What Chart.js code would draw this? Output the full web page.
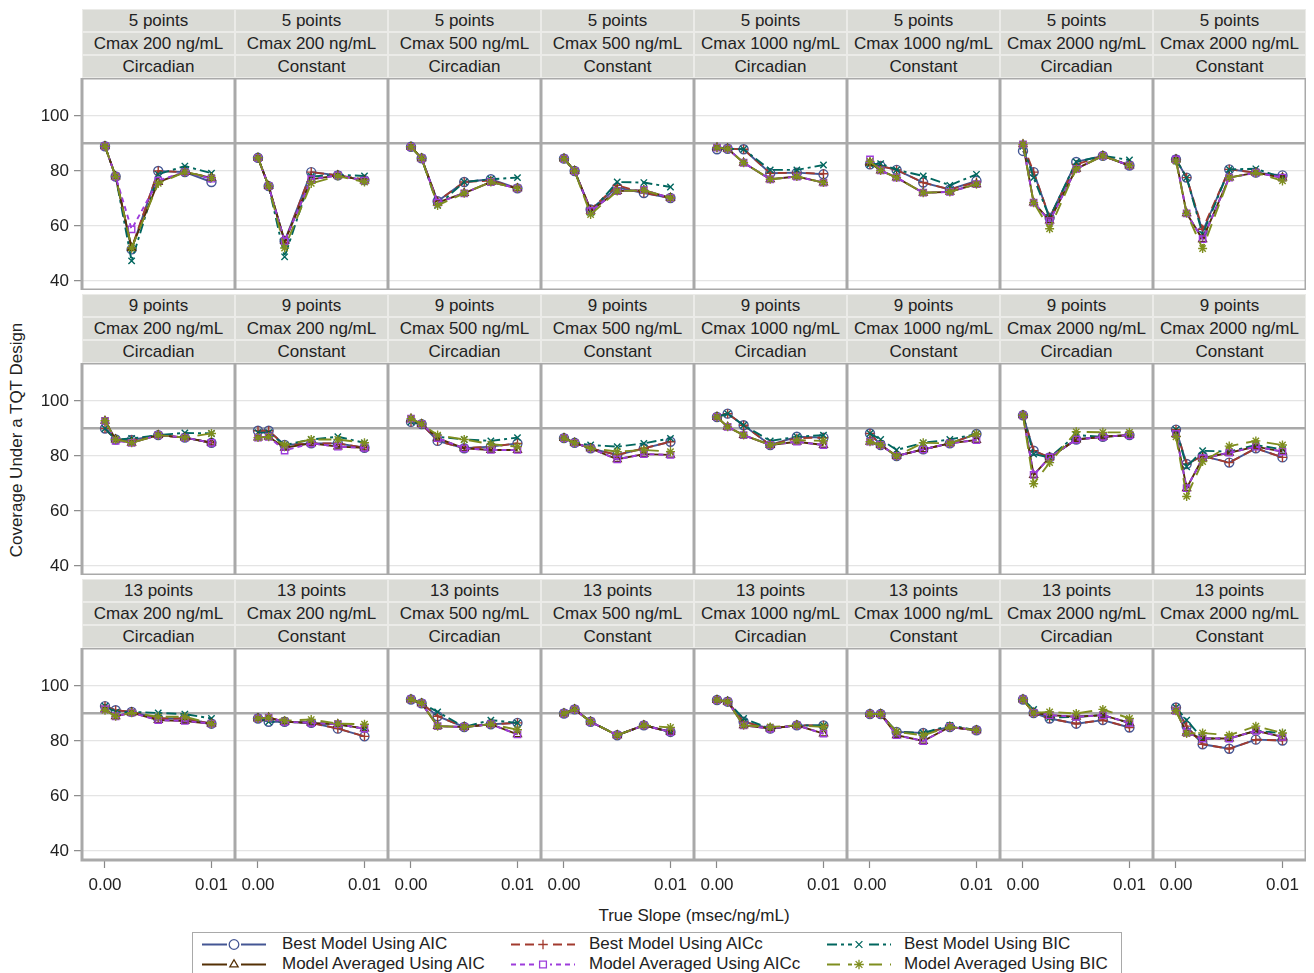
<!DOCTYPE html>
<html>
<head>
<meta charset="utf-8">
<script src="https://cdn.jsdelivr.net/npm/chart.js@4.4.1/dist/chart.umd.min.js"></script>
<style>
  body { margin: 0; background: #fff; font-family: "Liberation Sans", Arial, sans-serif; color: #222; }
  #wrap { position: relative; width: 1314px; height: 973px; overflow: hidden; }
  .hdr { position: absolute; background: #dadbd6; box-shadow: inset 0 0 0 1px #ebebe8; text-align: center; font-size: 17px; line-height: 23px; white-space: nowrap; }
  .panel { position: absolute; }
  .panel canvas { display: block; }
  .ttl { position: absolute; font-size: 17px; text-align: center; white-space: nowrap; }
  #legend { position: absolute; left: 192px; top: 932px; width: 930px; height: 46px; border: 1px solid #a9a9a9; box-sizing: border-box; }
  #legend canvas { position: absolute; }
  .lgTxt { position: absolute; font-size: 17px; line-height: 20px; white-space: nowrap; }
</style>
</head>
<body>
<div id="wrap">
  <div class="ttl" style="left:-183px; top:430px; width:400px; transform:rotate(-90deg);">Coverage Under a TQT Design</div>
  <div class="ttl" style="left:494px; top:906px; width:400px;">True Slope (msec/ng/mL)</div>
  <div id="legend"></div>
</div>
<script>
// ─── データ ─────────────────────────────
const slopes = [0, 0.001, 0.0025, 0.005, 0.0075, 0.01];
const xTicks = [0, 0.01];
const yTicks = [40, 60, 80, 100];
const refLine = 90;
const samplingLabels = ['5 points', '9 points', '13 points'];
const cmaxLabels = ['Cmax 200 ng/mL', 'Cmax 200 ng/mL', 'Cmax 500 ng/mL', 'Cmax 500 ng/mL',
                    'Cmax 1000 ng/mL', 'Cmax 1000 ng/mL', 'Cmax 2000 ng/mL', 'Cmax 2000 ng/mL'];
const profileLabels = ['Circadian', 'Constant', 'Circadian', 'Constant',
                       'Circadian', 'Constant', 'Circadian', 'Constant'];

// panels in reading order (row by row), 6 slopes each
const bestAIC = [
  [89, 78, 51.5, 80, 79.6, 76], [84.8, 74.5, 54.5, 79.6, 78.4, 76.7], [88.8, 84.6, 69, 76, 77, 73.7], [84.5, 80, 66, 74, 72, 70.2],
  [87.9, 88.1, 87.9, 79.2, 79.4, 78.8], [82.4, 81.8, 80.4, 75.8, 73.3, 76.4], [87.3, 79.6, 63, 83.3, 85.5, 82], [84.2, 77.6, 58, 80.6, 79.4, 78.4],
  [90, 86, 85.8, 87.6, 86.7, 84.8], [89.2, 89.2, 84, 84.6, 84.6, 83], [92.4, 91.6, 85.5, 82.8, 83.4, 84.6], [86.5, 84.8, 82.8, 80.4, 82.8, 85.2],
  [94.2, 95.4, 91.2, 84, 87, 86.7], [88.2, 84, 80, 82.4, 84.6, 88], [94.8, 81.9, 79.5, 86, 87, 87.6], [89.6, 77.1, 80, 77.6, 82.8, 79.5],
  [92.7, 91.2, 90.6, 88.2, 88.2, 86.3], [88.2, 87, 87, 86.6, 84.5, 81.7], [95.1, 93.7, 89, 85.1, 86.1, 86.6], [90, 91.5, 87, 82.1, 85.7, 83.3],
  [94.9, 94.3, 87, 84.5, 85.7, 85.7], [89.8, 89.8, 83.3, 82.9, 85.1, 83.9], [95.1, 90.2, 88.2, 86.3, 87.6, 84.9], [92.2, 85.4, 78.8, 77.2, 80.5, 80.2]
];
const bestAICc = [
  [89, 78, 52, 80, 79.6, 77.6], [84.8, 74.5, 54, 79.6, 78.4, 77], [88.8, 84.6, 69, 76, 76.5, 73.7], [84.5, 80, 66, 74.8, 72.1, 70.2],
  [88.5, 88.1, 87.9, 79.2, 79.4, 79], [82.4, 81.8, 80.4, 75.8, 73.3, 76], [89.5, 79.6, 63, 82.4, 85.5, 82], [84.2, 77.6, 58.8, 80.6, 79.4, 77.6],
  [90, 86, 85.8, 87.6, 86.7, 84.8], [89.2, 89.2, 84, 84.6, 84.6, 83], [92.4, 91.6, 85.5, 82.8, 83.4, 84.6], [86.5, 84.8, 82.8, 80.4, 82.8, 85.2],
  [94.2, 95.4, 91.2, 84, 86.5, 86.7], [88.2, 84, 80, 82.4, 84.6, 88], [94.8, 81.9, 79.5, 86, 87, 87.6], [89.6, 77.1, 80, 77.6, 82.8, 79.5],
  [92.7, 91.2, 90.6, 88.2, 88.2, 86.3], [88.2, 88.5, 87, 86.6, 84.5, 81.7], [95.1, 93.7, 89, 85.1, 86.1, 86.6], [90, 91.5, 87, 82.1, 85.7, 83.3],
  [94.9, 94.3, 87, 84.5, 85.7, 85.7], [89.8, 89.8, 83.3, 82.9, 85.1, 83.9], [95.1, 90.2, 88.2, 86.3, 87.6, 84.9], [92.2, 85.4, 78.8, 77.2, 80.5, 80.2]
];
const bestBIC = [
  [89, 78, 47.3, 78.8, 81.8, 79.2], [84.8, 74.5, 48.8, 78, 78.6, 78.2], [88.8, 84.6, 67.5, 76, 77, 77.6], [84.5, 80, 65, 76, 75.8, 74.2],
  [88.5, 88.1, 87.9, 80.4, 80.4, 82.2], [82.4, 82.7, 80.4, 78.2, 74.8, 78.8], [89, 77.6, 63, 83.3, 85.5, 84], [84.2, 77.6, 57, 80.6, 80.8, 77.6],
  [90, 86, 86.4, 87.6, 88.4, 88.2], [88.5, 88.5, 84, 86, 87, 84.8], [92.4, 91.6, 87, 86, 85.5, 86.7], [86.5, 84.8, 84, 83.4, 84.6, 86.4],
  [94.2, 95.4, 91.2, 85.5, 87, 87.6], [88.2, 86, 82.2, 84.8, 86, 88], [94.8, 80.7, 79.5, 87.6, 87, 87.6], [89.6, 76.1, 81.9, 81.6, 84, 82.4],
  [92.7, 90.5, 90.6, 90.2, 89.8, 88.2], [88.2, 87, 87, 86.6, 86.1, 84.5], [95.1, 93.7, 90.6, 85.1, 87.6, 86.6], [90, 91.5, 87, 82.1, 85.7, 83.3],
  [94.9, 94.3, 88.2, 84.5, 85.7, 85.7], [89.8, 89.8, 83.3, 82.9, 85.7, 83.9], [95.1, 91.5, 88.5, 88.8, 89.4, 86.6], [92.2, 87.6, 80.9, 80.9, 83.7, 82.9]
];
const avgAIC = [
  [89, 78, 52, 76, 79.6, 77.5], [84.8, 74.5, 54.5, 77, 78.4, 76.5], [88.8, 84.6, 68.5, 72, 76, 73.7], [84.5, 80, 65.5, 72.7, 73, 70.2],
  [88.5, 88.1, 83, 77, 78, 75.8], [83, 80.2, 77.6, 72.1, 72.4, 75.2], [89.7, 68.5, 62, 80.8, 85.5, 82], [84.2, 64.6, 55.2, 77.6, 79.4, 77.6],
  [92.8, 86, 84.8, 87.6, 86.7, 84.8], [86.7, 87, 83, 84.6, 83.4, 83], [93.6, 91.6, 86.5, 82.8, 82.2, 82.2], [86.5, 84.8, 82.8, 78.8, 80.7, 80.4],
  [94.2, 90.6, 87.6, 84, 85.2, 84], [85.2, 84, 80, 82.4, 84.6, 85.8], [94.8, 73.1, 79.5, 86, 87, 87.6], [88, 68.3, 79.2, 81.2, 83.4, 81.6],
  [91.5, 89, 90.3, 87.6, 87.3, 86.3], [88.2, 88.5, 87, 86.6, 86.1, 84.5], [95.1, 93.7, 85.4, 85.1, 86.1, 82.4], [90, 91.5, 87, 82.1, 85.7, 83.3],
  [94.9, 94.3, 85.7, 84.5, 85.7, 82.7], [89.8, 89.8, 82.1, 80, 85.1, 83.9], [95.1, 90.2, 89.4, 88.8, 89.4, 86.6], [91, 83, 80.9, 80.9, 83.7, 81.5]
];
const avgAICc = [
  [89, 78, 58.8, 76.5, 79.6, 77.2], [84.8, 74.5, 54.5, 77, 78.4, 76.5], [88.8, 84.6, 68.5, 71.9, 76, 73.7], [84.5, 80, 65.5, 72.7, 73.1, 70.2],
  [88.5, 88.1, 83, 77, 78, 75.8], [84.2, 80.2, 77.6, 72.1, 72.4, 75.2], [89.7, 68.5, 61.8, 80.8, 85.5, 82], [84.2, 64.6, 55.2, 77.6, 79.4, 77.6],
  [92.8, 85.5, 84.8, 87.6, 86.7, 84.8], [86.7, 87, 82, 84.6, 83.4, 83], [93.6, 91.6, 86.5, 82.8, 82.2, 82.2], [86.5, 84.8, 82.8, 78.8, 80.7, 80.4],
  [94.2, 90.6, 87.6, 84, 85.2, 84], [85.2, 84, 80, 82.4, 84.6, 85.8], [94.8, 73.1, 79.5, 86, 87, 87.6], [88, 68.3, 79.2, 81.2, 83.4, 81.6],
  [91.5, 89, 90.3, 87.6, 87.3, 86.3], [88.2, 88.5, 87, 86.6, 86.1, 84.5], [95.1, 93.7, 85.4, 85.1, 86.1, 82.4], [90, 91.5, 87, 82.1, 85.7, 83.3],
  [94.9, 94.3, 85.7, 84.5, 85.7, 82.7], [89.8, 89.8, 82.1, 80, 85.1, 83.9], [95.1, 90.2, 89.4, 88.8, 89.4, 86.6], [91, 83, 80.9, 80.9, 83.7, 81.5]
];
const avgBIC = [
  [89, 78, 52, 75.5, 79.6, 77.6], [84.8, 74.5, 52, 75.5, 78.2, 76], [88.8, 84.6, 67.5, 71.9, 76, 73.7], [84.5, 80, 64.2, 72.7, 73, 70.2],
  [88.5, 88.1, 83, 77, 78, 75.8], [83.5, 80.2, 77.6, 72.1, 72.4, 75.2], [89.7, 68.5, 59, 80.8, 85.5, 82], [83.6, 64.6, 51.8, 77.6, 79.4, 76.4],
  [92.8, 86, 84.8, 87.6, 86.7, 88.2], [86.7, 87, 84, 86, 86, 84.8], [93.6, 91.6, 87.6, 86, 84.3, 83.4], [86.5, 84.8, 82.8, 81.6, 82.2, 81.6],
  [94.2, 90.6, 87.6, 84, 85.8, 85.5], [85.2, 84, 80, 84.8, 84.6, 88], [94.8, 69.9, 77.6, 88.8, 88.6, 88.6], [87, 65.3, 78, 83.6, 85.5, 84],
  [91.2, 89, 90.3, 88.8, 88.8, 86.3], [88.2, 88.5, 87.4, 87.8, 86.3, 86.1], [95.1, 93.7, 85.4, 85.1, 86.1, 84.1], [90, 91.5, 87, 82.1, 85.7, 84.9],
  [94.9, 94.3, 85.7, 85.1, 85.7, 85.1], [89.8, 89.8, 83.3, 82.1, 85.1, 83.9], [95.1, 90.2, 90.6, 90, 91.5, 88.2], [91, 82.7, 82.9, 82.1, 85.4, 82.9]
];

// ─── 系列スタイル ─────────────────────────────
const SERIES = [
  { label: 'Best Model Using AIC',      data: bestAIC,  color: '#445694', dash: [],            point: 'circle' },
  { label: 'Best Model Using AICc',     data: bestAICc, color: '#A23A2E', dash: [9, 5],        point: 'cross' },
  { label: 'Best Model Using BIC',      data: bestBIC,  color: '#01665E', dash: [10, 4, 3, 4], point: 'crossRot' },
  { label: 'Model Averaged Using AIC',  data: avgAIC,   color: '#543005', dash: [],            point: 'triangle' },
  { label: 'Model Averaged Using AICc', data: avgAICc,  color: '#9D3CDB', dash: [5, 4],        point: 'rect' },
  { label: 'Model Averaged Using BIC',  data: avgBIC,   color: '#7F8E1F', dash: [13, 8],       point: 'star' }
];

// ─── レイアウト ─────────────────────────────
const PLOT_LEFT = 82, PLOT_W = 153, ROW_TOP = 78, ROW_PITCH = 285, PLOT_H = 212;
const HDR_H = 23, Y_AXIS_W = 52, X_AXIS_H = 40;
const Y_MIN = 36.73, Y_MAX = 113.82;
const X_MIN = -0.00216, X_MAX = 0.01221;
const FONT = { family: '"Liberation Sans", Arial, sans-serif', size: 17 };

Chart.defaults.font.family = FONT.family;
Chart.defaults.color = '#222';

const framePlugin = {
  id: 'frame',
  beforeDatasetsDraw(chart) {
    const { ctx, chartArea: a } = chart;
    ctx.save();
    ctx.strokeStyle = '#a9a9a9';
    ctx.lineWidth = 3;
    ctx.strokeRect(a.left, a.top, a.right - a.left, a.bottom - a.top);
    ctx.restore();
  }
};

// 軸のラベル分の余白を消して、プロット領域をパネルにぴったり合わせる
function fixSize(s, w, h) {
  if (w !== null) s.width = w;
  if (h !== null) s.height = h;
  s.paddingTop = 0; s.paddingBottom = 0; s.paddingLeft = 0; s.paddingRight = 0;
}

const wrap = document.getElementById('wrap');

function addHeader(left, top, text) {
  const d = document.createElement('div');
  d.className = 'hdr';
  d.style.left = left + 'px';
  d.style.top = top + 'px';
  d.style.width = PLOT_W + 'px';
  d.style.height = HDR_H + 'px';
  d.textContent = text;
  wrap.appendChild(d);
}

for (let r = 0; r < 3; r++) {
  for (let c = 0; c < 8; c++) {
    const idx = r * 8 + c;
    const left = PLOT_LEFT + c * PLOT_W;
    const top = ROW_TOP + r * ROW_PITCH;
    // ヘッダー3段
    addHeader(left, top - 3 * HDR_H, samplingLabels[r]);
    addHeader(left, top - 2 * HDR_H, cmaxLabels[c]);
    addHeader(left, top - HDR_H, profileLabels[c]);

    const firstCol = c === 0, lastRow = r === 2;
    const box = document.createElement('div');
    box.className = 'panel';
    box.style.left = (left - (firstCol ? Y_AXIS_W : 0)) + 'px';
    box.style.top = top + 'px';
    box.style.width = (PLOT_W + (firstCol ? Y_AXIS_W : 0)) + 'px';
    box.style.height = (PLOT_H + (lastRow ? X_AXIS_H : 0)) + 'px';
    const cv = document.createElement('canvas');
    box.appendChild(cv);
    wrap.appendChild(box);

    new Chart(cv, {
      type: 'line',
      data: {
        datasets: SERIES.map((s, i) => ({
          label: s.label,
          data: slopes.map((x, k) => ({ x, y: s.data[idx][k] })),
          borderColor: s.color,
          backgroundColor: 'transparent',
          borderWidth: 1.9,
          borderDash: s.dash,
          pointStyle: s.point,
          pointRadius: 4.5,
          pointBorderColor: s.color,
          pointBackgroundColor: 'transparent',
          pointBorderWidth: 1.4,
          tension: 0,
          order: SERIES.length - i
        }))
      },
      options: {
        responsive: true,
        maintainAspectRatio: false,
        animation: false,
        events: [],
        devicePixelRatio: 1,
        layout: { padding: 0, autoPadding: false },
        plugins: { legend: { display: false }, tooltip: { enabled: false } },
        scales: {
          x: {
            type: 'linear',
            min: X_MIN, max: X_MAX,
            display: lastRow,
            afterBuildTicks: s => { s.ticks = xTicks.map(v => ({ value: v })); },
            ticks: { callback: v => Number(v).toFixed(2), maxRotation: 0, padding: 7, font: FONT, color: '#222' },
            grid: { drawOnChartArea: false, drawTicks: true, tickLength: 8, tickColor: '#888', tickWidth: 1.2 },
            border: { display: false },
            afterFit: s => fixSize(s, null, lastRow ? X_AXIS_H : 0)
          },
          y: {
            type: 'linear',
            min: Y_MIN, max: Y_MAX,
            afterBuildTicks: s => { s.ticks = [...yTicks, refLine].sort((a, b) => a - b).map(v => ({ value: v })); },
            ticks: { display: firstCol, callback: v => (v === refLine ? '' : v), padding: 5, font: FONT, color: '#222' },
            grid: {
              color: ctx => (ctx.tick && ctx.tick.value === refLine ? '#a9a9a9' : '#e4e4e4'),
              lineWidth: ctx => (ctx.tick && ctx.tick.value === refLine ? 2.4 : 1.3),
              drawTicks: firstCol,
              tickLength: 8,
              tickColor: ctx => (ctx.tick && ctx.tick.value === refLine ? 'rgba(0,0,0,0)' : '#888'),
              tickWidth: 1.2
            },
            border: { display: false },
            afterFit: s => fixSize(s, firstCol ? Y_AXIS_W : 0, null)
          }
        }
      },
      plugins: [framePlugin]
    });
  }
}

// ─── 凡例 ─────────────────────────────
const legend = document.getElementById('legend');
const LEG_COLS = [{ line: 8, text: 89 }, { line: 317, text: 396 }, { line: 633, text: 711 }];
const LEG_ROWS = [1, 21];
SERIES.forEach((s, i) => {
  const col = LEG_COLS[i % 3], row = LEG_ROWS[Math.floor(i / 3)];
  const cv = document.createElement('canvas');
  cv.width = 66; cv.height = 20;
  cv.style.left = col.line + 'px'; cv.style.top = row + 'px';
  legend.appendChild(cv);
  const ctx = cv.getContext('2d');
  ctx.strokeStyle = s.color;
  ctx.lineWidth = 1.8;
  ctx.setLineDash(s.dash);
  ctx.beginPath(); ctx.moveTo(1, 10.5); ctx.lineTo(65, 10.5); ctx.stroke();
  ctx.setLineDash([]);
  ctx.fillStyle = '#fff';
  ctx.fillRect(26, 4, 14, 13);
  ctx.lineWidth = 1.3;
  Chart.helpers.drawPoint(ctx, { pointStyle: s.point, radius: 4.8, rotation: 0, borderWidth: 1.3 }, 33, 10.5);
  const t = document.createElement('div');
  t.className = 'lgTxt';
  t.style.left = col.text + 'px'; t.style.top = row + 'px';
  t.textContent = s.label;
  legend.appendChild(t);
});
</script>
</body>
</html>
